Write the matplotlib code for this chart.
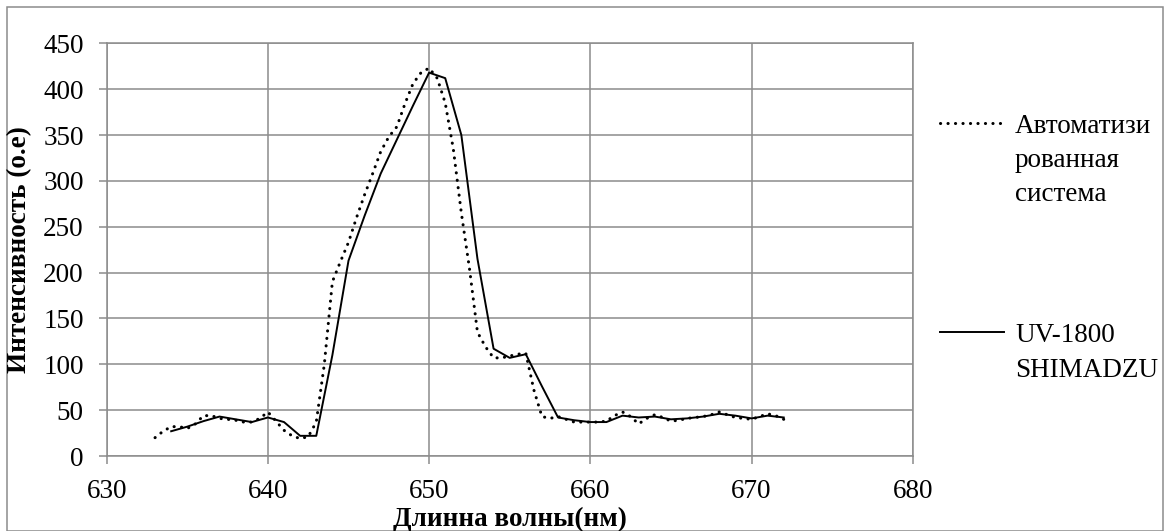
import matplotlib
matplotlib.use("Agg")
import matplotlib.pyplot as plt
from matplotlib.lines import Line2D
from matplotlib.patches import Rectangle

plt.rcParams['font.family'] = ['Liberation Serif', 'DejaVu Serif']

# UV-1800 SHIMADZU (solid line), 1 nm step
uv_nm = [634, 635, 636, 637, 638, 639, 640, 641, 642, 643, 644, 645, 646,
         647, 648, 649, 650, 651, 652, 653, 654, 655, 656, 657, 658, 659,
         660, 661, 662, 663, 664, 665, 666, 667, 668, 669, 670, 671, 672]
uv_int = [27, 32, 38, 43, 40, 37, 42, 37, 22, 22, 110, 213, 262,
          308, 345, 382, 418, 412, 350, 215, 117, 107, 111, 76, 42, 39,
          37, 37, 44, 42, 43, 40, 41, 43, 46, 44, 41, 44, 42]

# automated system (dotted line), 0.5 nm step
auto_nm = [633.0, 633.5, 634.0, 634.5, 635.0, 635.5, 636.0, 636.5, 637.0, 637.5,
           638.0, 638.5, 639.0, 639.5, 640.0, 640.5, 641.0, 641.5, 642.0, 642.5,
           643.0, 643.5, 644.0, 644.5, 645.0, 645.5, 646.0, 646.5, 647.0, 647.5,
           648.0, 648.5, 649.0, 649.5, 650.0, 650.5, 651.0, 651.5, 652.0, 652.5,
           653.0, 653.5, 654.0, 654.5, 655.0, 655.5, 656.0, 656.5, 657.0, 657.5,
           658.0, 658.5, 659.0, 659.5, 660.0, 660.5, 661.0, 661.5, 662.0, 662.5,
           663.0, 663.5, 664.0, 664.5, 665.0, 665.5, 666.0, 666.5, 667.0, 667.5,
           668.0, 668.5, 669.0, 669.5, 670.0, 670.5, 671.0, 671.5, 672.0]
auto_int = [20, 27, 32, 32, 30, 35, 44, 44, 41, 40,
            39, 37, 37, 41, 48, 38, 28, 22, 19, 21,
            37, 100, 190, 212, 233, 260, 285, 308, 332, 348,
            359, 384, 406, 418, 423, 412, 385, 335, 265, 205,
            135, 119, 107, 107, 109, 111, 112, 72, 43, 41,
            43, 40, 37, 37, 37, 37, 38, 44, 48, 43,
            35, 41, 45, 42, 38, 39, 41, 42, 43, 45,
            48, 45, 42, 41, 40, 43, 46, 44, 40]

x_ticks = [630, 640, 650, 660, 670, 680]
y_ticks = [0, 50, 100, 150, 200, 250, 300, 350, 400, 450]

grey = '#8c8c8c'
fs = 19.5
dots = (0, (0.05, 2.4))
W, H = 1164, 531

fig = plt.figure(figsize=(W / 100, H / 100), dpi=100)
ax = fig.add_axes([106.7 / W, 1 - 456 / H, (912.7 - 106.7) / W, (456 - 43.3) / H])

ax.plot(auto_nm, auto_int, color='black', lw=2.2, linestyle=dots,
        dash_capstyle='round')
ax.plot(uv_nm, uv_int, color='black', lw=1.4)

ax.set_xlim(630, 680)
ax.set_ylim(0, 450)
ax.set_xticks(x_ticks)
ax.set_yticks(y_ticks)
ax.grid(True, color=grey, lw=1.1)
ax.set_axisbelow(True)
for s in ax.spines.values():
    s.set_color(grey)
    s.set_linewidth(1.1)
ax.tick_params(direction='out', length=5.5, width=1.1, color=grey,
               labelsize=fs, pad=11)

fig.text(509.7 / W, 1 - 519 / H, 'Длинна волны(нм)', ha='center', va='center',
         fontsize=fs, fontweight='bold')
fig.text(20 / W, 1 - 249.7 / H, 'Интенсивность (о.е)', ha='center', va='center',
         rotation=90, fontsize=fs, fontweight='bold')

# legend drawn by hand, Excel style
fig.add_artist(Line2D([940 / W, 1005 / W], [1 - 123 / H, 1 - 123 / H], color='black',
                      lw=2.2, linestyle=dots, dash_capstyle='round'))
fig.add_artist(Line2D([940 / W, 1004 / W], [1 - 332 / H, 1 - 332 / H], color='black',
                      lw=1.4))
for txt, yb in [('Автоматизи', 132.7), ('рованная', 167), ('система', 201),
                ('UV-1800', 342), ('SHIMADZU', 377)]:
    fig.text(1015 / W, 1 - yb / H, txt, ha='left', va='baseline', fontsize=fs)

fig.add_artist(Rectangle((7 / W, 0), 1 - 8.5 / W, 1 - 6.5 / H, transform=fig.transFigure,
                         fill=False, edgecolor=grey, lw=1.1))

fig.savefig('out.png', dpi=100)
